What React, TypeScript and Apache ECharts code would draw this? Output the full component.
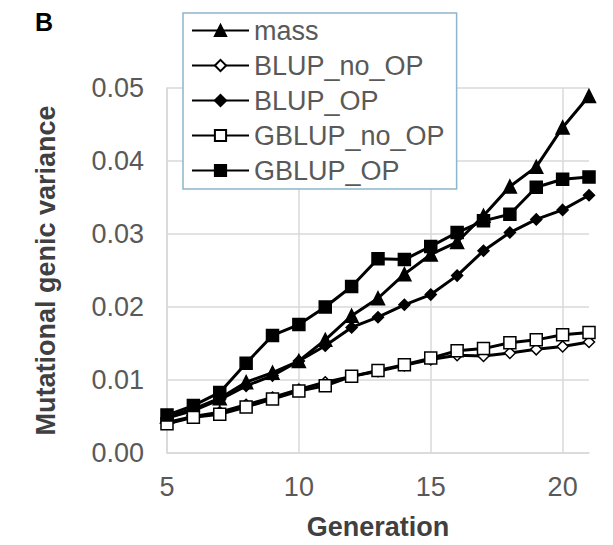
import React, { useEffect, useRef } from "react";
import * as echarts from "echarts";

const generations = [5, 6, 7, 8, 9, 10, 11, 12, 13, 14, 15, 16, 17, 18, 19, 20, 21];
const massValues = [0.0050, 0.0060, 0.0075, 0.0097, 0.0110, 0.0126, 0.0155, 0.0188, 0.0212, 0.0245, 0.0272, 0.0289, 0.0325, 0.0365, 0.0392, 0.0446, 0.0489];
const blupNoOpValues = [0.0042, 0.0050, 0.0056, 0.0066, 0.0076, 0.0087, 0.0097, 0.0105, 0.0112, 0.0120, 0.0128, 0.0134, 0.0133, 0.0137, 0.0142, 0.0146, 0.0152];
const blupOpValues = [0.0048, 0.0058, 0.0073, 0.0092, 0.0106, 0.0126, 0.0147, 0.0172, 0.0186, 0.0203, 0.0217, 0.0243, 0.0277, 0.0302, 0.0320, 0.0333, 0.0353];
const gblupNoOpValues = [0.0040, 0.0049, 0.0053, 0.0063, 0.0074, 0.0085, 0.0092, 0.0105, 0.0113, 0.0121, 0.0130, 0.0140, 0.0143, 0.0151, 0.0155, 0.0162, 0.0165];
const gblupOpValues = [0.0052, 0.0065, 0.0083, 0.0123, 0.0161, 0.0176, 0.0200, 0.0228, 0.0266, 0.0265, 0.0283, 0.0302, 0.0318, 0.0327, 0.0364, 0.0375, 0.0378];

const seriesNames = ["mass", "BLUP_no_OP", "BLUP_OP", "GBLUP_no_OP", "GBLUP_OP"];
const yTickInterval = 0.01;

const FONT = "'Liberation Sans', Arial, sans-serif";

export default function App() {
  const ref = useRef<HTMLDivElement>(null);

  useEffect(() => {
    if (!ref.current) return;
    const chart = echarts.init(ref.current, null, { renderer: "svg" });

    const pairs = (vals: number[]) => generations.map((g, i) => [g, vals[i]]);
    const mk = (name: string, vals: number[], symbol: string, size: number, fill: string) => ({
      name,
      type: "line",
      data: pairs(vals),
      symbol,
      symbolSize: size,
      showSymbol: true,
      lineStyle: { color: "#000", width: 3 },
      itemStyle: { color: fill, borderColor: "#000", borderWidth: 1.5 },
      emphasis: { disabled: true },
    });

    chart.setOption({
      animation: false,
      backgroundColor: "#fff",
      textStyle: { fontFamily: FONT },
      graphic: [
        {
          type: "text",
          left: 35,
          top: 9,
          style: { text: "B", font: `bold 25px ${FONT}`, fill: "#000" },
        },
      ],
      legend: {
        orient: "vertical",
        left: 183,
        top: 13,
        data: seriesNames,
        itemWidth: 57,
        itemHeight: 14,
        itemGap: 8,
        padding: [4, 12, 5, 8],
        backgroundColor: "#fff",
        borderColor: "#8cb6cc",
        borderWidth: 1.5,
        textStyle: { fontSize: 27, color: "#595959", fontFamily: FONT, lineHeight: 27 },
        selectedMode: false,
      },
      grid: { left: 167, right: 24, top: 88, bottom: 91, containLabel: false },
      xAxis: {
        type: "value",
        min: 5,
        max: 21,
        interval: 5,
        name: "Generation",
        nameLocation: "middle",
        nameGap: 60,
        nameTextStyle: { fontSize: 27, fontWeight: "bold", color: "#404040", fontFamily: FONT },
        axisLine: { show: true, lineStyle: { color: "#d9d9d9", width: 1.5 } },
        axisTick: { show: false },
        axisLabel: { fontSize: 27, color: "#595959", margin: 20, showMaxLabel: false, fontFamily: FONT },
        splitLine: { show: true, showMaxLine: false, lineStyle: { color: "#d9d9d9", width: 1.5 } },
      },
      yAxis: {
        type: "value",
        min: 0,
        max: 0.05,
        interval: yTickInterval,
        name: "Mutational genic variance",
        nameLocation: "middle",
        nameGap: 108,
        nameTextStyle: { fontSize: 27, fontWeight: "bold", color: "#404040", fontFamily: FONT },
        axisLine: { show: true, lineStyle: { color: "#d9d9d9", width: 1.5 } },
        axisTick: { show: false },
        axisLabel: {
          fontSize: 27,
          color: "#595959",
          margin: 23,
          fontFamily: FONT,
          formatter: (v: number) => v.toFixed(2),
        },
        splitLine: { show: true, lineStyle: { color: "#d9d9d9", width: 1.5 } },
      },
      series: [
        mk("mass", massValues, "triangle", 13, "#000"),
        mk("BLUP_no_OP", blupNoOpValues, "diamond", 11, "#fff"),
        mk("BLUP_OP", blupOpValues, "diamond", 11, "#000"),
        mk("GBLUP_no_OP", gblupNoOpValues, "rect", 12, "#fff"),
        mk("GBLUP_OP", gblupOpValues, "rect", 12, "#000"),
      ],
    });

    return () => chart.dispose();
  }, []);

  return <div ref={ref} style={{ width: 613, height: 545, position: "absolute", left: 0, top: 0 }} />;
}
